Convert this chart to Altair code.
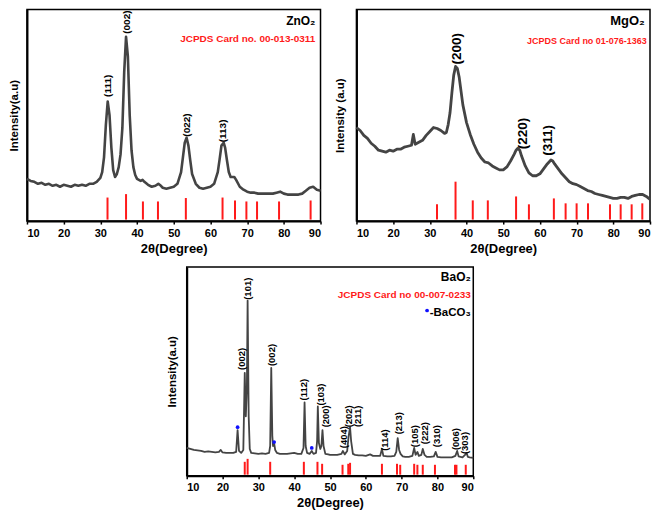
import altair as alt
import pandas as pd

FONT = "Liberation Sans"
GRAY = "#444444"
RED = "#ff1a1a"

# ---------------- ZnO2 ----------------
zn_curve = [
    [10, 43], [11, 41], [12, 40], [13, 38], [14, 39], [15, 37], [16, 38], [17, 36], [18, 37], [19, 35],
    [20, 37], [21, 36], [22, 35], [23, 37], [24, 36], [25, 37], [26, 36], [27, 38], [28, 38], [29, 40],
    [30, 44], [30.5, 50], [31, 65], [31.5, 98], [32, 122], [32.5, 108], [33, 75], [33.5, 52], [34, 45],
    [34.5, 48], [35, 55], [35.5, 68], [36, 95], [36.5, 152], [37, 188], [37.5, 168], [38, 108], [38.5, 72],
    [39, 55], [39.5, 47], [40, 43], [41, 41], [41.5, 42], [42, 40], [43, 37], [44, 35], [45, 36], [45.8, 38],
    [46.5, 36], [47, 34], [48, 33], [49, 34], [50, 35], [51, 38], [52, 50], [52.5, 65], [53, 80], [53.5, 85],
    [54, 77], [54.5, 62], [55, 48], [56, 38], [57, 34], [58, 33], [59, 34], [60, 35], [61, 38], [62, 50],
    [62.5, 63], [63, 77], [63.6, 80], [64, 75], [64.5, 62], [65, 50], [65.5, 45], [66.5, 45], [67, 42],
    [68, 35], [69, 32], [70, 30], [71, 29], [72, 29], [73, 28], [74, 28], [75, 28], [76, 28], [77, 28],
    [78, 29], [79, 30], [80, 28], [81, 27], [82, 27], [83, 27], [84, 27], [85, 28], [86, 31], [87, 34],
    [88, 35], [89, 32], [90, 31],
]
zn_ref_x = [31.95, 37.0, 41.6, 45.7, 53.3, 63.3, 66.7, 69.8, 72.7, 78.7, 87.3]
zn_ref_h = [24, 27.5, 20, 20, 23.5, 24, 21, 20, 20, 20, 21]
zn_lab_x = [32.1, 37.2, 53.5, 63.5]
zn_lab_y = [138, 203, 98, 92]
zn_lab_t = ["(111)", "(002)", "(022)", "(113)"]

# ---------------- MgO2 ----------------
mg_curve = [
    [10, 95], [11, 92], [12, 87], [13, 84], [14, 79], [15, 76], [16, 72], [17, 71], [18, 70], [19, 72],
    [20, 71], [21, 73], [22, 73], [23, 75], [24, 76], [25, 77], [25.5, 88], [26, 78], [27, 80], [28, 82],
    [29, 87], [30, 91], [31, 95], [32, 94], [33, 92], [34, 89], [34.5, 90], [35, 98], [35.5, 110],
    [36, 130], [36.5, 148], [37, 157], [37.5, 155], [38, 146], [38.5, 132], [39, 118], [40, 100],
    [41, 88], [42, 78], [43, 70], [44, 64], [45, 60], [46, 59], [47, 56], [48, 54], [49, 52], [50, 52],
    [51, 55], [52, 61], [53, 68], [53.5, 72], [54, 74], [54.5, 72], [55, 66], [56, 56], [57, 49],
    [58, 46], [59, 46], [60, 48], [61, 53], [62, 58], [63, 62], [63.5, 61], [64, 58], [65, 53],
    [66, 48], [67, 44], [68, 40], [69, 38], [70, 37], [71, 35], [72, 33], [73, 31], [74, 30], [75, 28],
    [76, 27], [77, 26], [78, 25], [79, 24], [80, 23], [81, 23], [82, 24], [83, 24], [84, 23], [85, 25],
    [86, 26], [87, 27], [88, 27], [89, 25], [90, 22],
]
mg_ref_x = [31.95, 37.0, 41.7, 45.8, 53.5, 57.0, 63.8, 67.0, 70.0, 73.1, 79.1, 82.0, 85.0, 87.9]
mg_ref_h = [17, 40, 21, 21, 25, 17, 23, 18, 18, 18, 17, 17, 17, 18]
mg_lab_x = [37.4, 55.4, 62.2]
mg_lab_y = [175, 89, 82]
mg_lab_t = ["(200)", "(220)", "(311)"]

# ---------------- BaO2 ----------------
ba_curve = [
    [10, 28], [11, 27], [12, 26], [13, 25.5], [14, 25], [15, 24], [16, 24.5], [17, 24], [18, 23.5], [19, 24],
    [19.5, 26], [20, 23.5], [21, 23], [22, 23], [23, 23], [23.8, 24], [24.2, 46], [24.6, 25], [25.2, 23],
    [25.8, 26], [26.2, 104], [26.5, 60], [26.8, 90], [27.0, 177], [27.3, 60], [27.6, 27], [28, 23],
    [29, 22.5], [30, 22], [31, 22.5], [32, 22], [33, 23], [33.3, 30], [33.6, 109], [33.9, 40], [34.1, 30],
    [34.4, 33], [34.7, 26], [35.2, 23], [36, 22], [37, 22], [38, 22], [39, 22.5], [40, 23], [41, 22],
    [42, 22], [42.6, 28], [42.9, 74], [43.2, 30], [43.6, 23], [44.3, 22], [44.9, 25], [45.4, 22],
    [46.1, 23], [46.4, 35], [46.6, 70], [46.9, 33], [47.3, 27], [47.6, 30], [47.9, 46], [48.2, 30],
    [48.7, 22], [49.5, 21.5], [50, 21], [51, 21], [52, 21], [53.2, 22], [53.6, 25], [54.1, 21.5],
    [54.8, 25], [55.2, 40], [55.6, 49], [55.9, 35], [56.4, 22], [57, 21], [58, 20.5], [59, 20.5],
    [60, 20], [61.2, 21.5], [62, 20], [63, 20], [64, 20], [64.5, 27], [64.9, 20], [66, 19.5], [67, 19.5],
    [68, 20], [68.5, 24], [68.9, 38], [69.3, 26], [69.7, 22], [70.3, 19.5], [71, 19], [72, 19], [73, 20],
    [73.5, 28], [73.9, 21], [74.4, 24], [74.8, 20], [75.5, 21], [75.9, 27], [76.4, 21], [77, 19], [78, 19],
    [79, 19.5], [79.5, 24], [80, 19], [81, 18.5], [82, 18.5], [83, 18.5], [84, 18.5], [85, 20], [85.5, 25],
    [85.9, 19.5], [87, 18.5], [87.7, 21], [88.1, 23], [88.5, 19], [89, 18.5], [90, 18],
]
ba_ref_x = [26.2, 27.0, 33.3, 42.7, 46.5, 47.8, 53.5, 55.1, 55.6, 64.5, 68.7, 69.6, 73.5, 74.4, 75.9,
            79.3, 84.9, 85.3, 87.9]
ba_ref_h = [14, 17, 14, 14, 14, 12, 11, 12, 13, 12, 12, 11, 12, 11, 11, 11, 11, 11, 11]
ba_lab_x = [25.4, 27.1, 33.8, 42.8, 47.5, 48.9, 53.8, 55.4, 57.7, 65.4, 69.3, 73.7, 76.5, 79.8, 85.2, 87.6]
ba_lab_y = [118, 189, 122, 87, 82, 60, 39, 60, 60, 36, 53, 40, 43, 40, 37, 33]
ba_lab_t = ["(002)", "(101)", "(002)", "(112)", "(103)", "(200)", "(404)", "(202)", "(211)", "(114)",
            "(213)", "(105)", "(222)", "(310)", "(006)", "(303)"]
ba_star_x = [24.2, 34.4, 44.9]
ba_star_y = [49, 34, 28]


def x_enc():
    return alt.X(
        "x:Q",
        scale=alt.Scale(domain=[10, 90], nice=False, zero=False),
        axis=alt.Axis(values=[10, 20, 30, 40, 50, 60, 70, 80, 90], title="2θ(Degree)", grid=False,
                      labelFont=FONT, labelFontWeight="bold", labelFontSize=11, labelColor="black",
                      labelPadding=3, titleFont=FONT, titleFontWeight="bold", titleFontSize=13,
                      titleColor="black", titlePadding=4, domainColor="black", domainWidth=2,
                      tickColor="black", tickSize=3, tickWidth=1.5),
    )


def y_enc(ymax, title, tpad):
    return alt.Y(
        "y:Q",
        scale=alt.Scale(domain=[0, ymax], nice=False, zero=False),
        axis=alt.Axis(title=title, labels=False, ticks=False, grid=False, titleFont=FONT,
                      titleFontWeight="bold", titleFontSize=11.5, titleColor="black",
                      titlePadding=tpad, domainColor="black", domainWidth=2),
    )


def panel(curve, rx, rh, base, lx, ly, lt, lsize, ymax, w, h, ytitle, tpad, cw, notes, stars=None):
    xe = x_enc()
    ye = y_enc(ymax, ytitle, tpad)
    cdf = pd.DataFrame(curve, columns=["x", "y"])
    line = alt.Chart(cdf).mark_line(color=GRAY, strokeWidth=cw, strokeJoin="round").encode(x=xe, y=ye)
    sdf = pd.DataFrame({"x": rx, "y": rh})
    sticks = alt.Chart(sdf).mark_rule(color=RED, strokeWidth=2).encode(x=xe, y=ye, y2=alt.datum(base))
    ldf = pd.DataFrame({"x": lx, "y": ly, "t": lt})
    labs = alt.Chart(ldf).mark_text(angle=270, font=FONT, fontWeight="bold", fontSize=lsize,
                                    color="black").encode(x=xe, y=ye, text="t:N")
    layers = [line, sticks, labs]
    for n in notes:
        ndf = pd.DataFrame({"x": [n["x"]], "y": [n["y"]], "t": [n["t"]]})
        layers.append(
            alt.Chart(ndf).mark_text(align="right", baseline="middle", font=FONT, fontWeight="bold",
                                     fontSize=n["s"], color=n["c"]).encode(x=xe, y=ye, text="t:N")
        )
    if stars is not None:
        pdf = pd.DataFrame({"x": stars[0], "y": stars[1]})
        layers.append(alt.Chart(pdf).mark_point(filled=True, color="#1010ff", size=14, opacity=1)
                      .encode(x=xe, y=ye))
    return alt.layer(*layers).properties(width=w, height=h)


p1 = panel(zn_curve, zn_ref_x, zn_ref_h, 1.5, zn_lab_x, zn_lab_y, zn_lab_t, 10, 216, 294, 212,
           "Intensity(a.u)", 7, 2.6,
           [{"x": 88.6, "y": 204, "t": "ZnO₂", "s": 12, "c": "black"},
            {"x": 88.6, "y": 186, "t": "JCPDS Card no. 00-013-0311", "s": 10, "c": RED}])

p2 = panel(mg_curve, mg_ref_x, mg_ref_h, 1.5, mg_lab_x, mg_lab_y, mg_lab_t, 13.5, 215, 294, 212,
           "Intensity (a.u)", 11, 2.8,
           [{"x": 88.6, "y": 203, "t": "MgO₂", "s": 13, "c": "black"},
            {"x": 89.1, "y": 183, "t": "JCPDS Card no 01-076-1363", "s": 9, "c": RED}])

p3 = panel(ba_curve, ba_ref_x, ba_ref_h, 1, ba_lab_x, ba_lab_y, ba_lab_t, 9.5, 211, 287, 209,
           "Intensity(a.u)", 9, 1.8,
           [{"x": 89.3, "y": 201, "t": "BaO₂", "s": 12, "c": "black"},
            {"x": 89.3, "y": 183, "t": "JCPDS Card no 00-007-0233", "s": 10, "c": RED},
            {"x": 89.3, "y": 164, "t": "-BaCO₃", "s": 11.5, "c": "black"}],
           stars=(ba_star_x + [77.1], ba_star_y + [167]))

spacer = alt.Chart(pd.DataFrame({"x": [0]})).mark_point(opacity=0).encode(
    x=alt.X("x:Q", axis=None), y=alt.Y("x:Q", axis=None)
).properties(width=138, height=10, view=alt.ViewBackground(stroke="transparent"))

row1 = alt.hconcat(p1, p2, spacing=10)
row2 = alt.hconcat(spacer, p3, spacing=0)

chart = (
    alt.vconcat(row1, row2, spacing=10)
    .properties(padding=0)
    .configure_view(stroke="black", strokeWidth=1.5)
)

chart.save("out.html", embed_options={"renderer": "svg", "actions": False})
